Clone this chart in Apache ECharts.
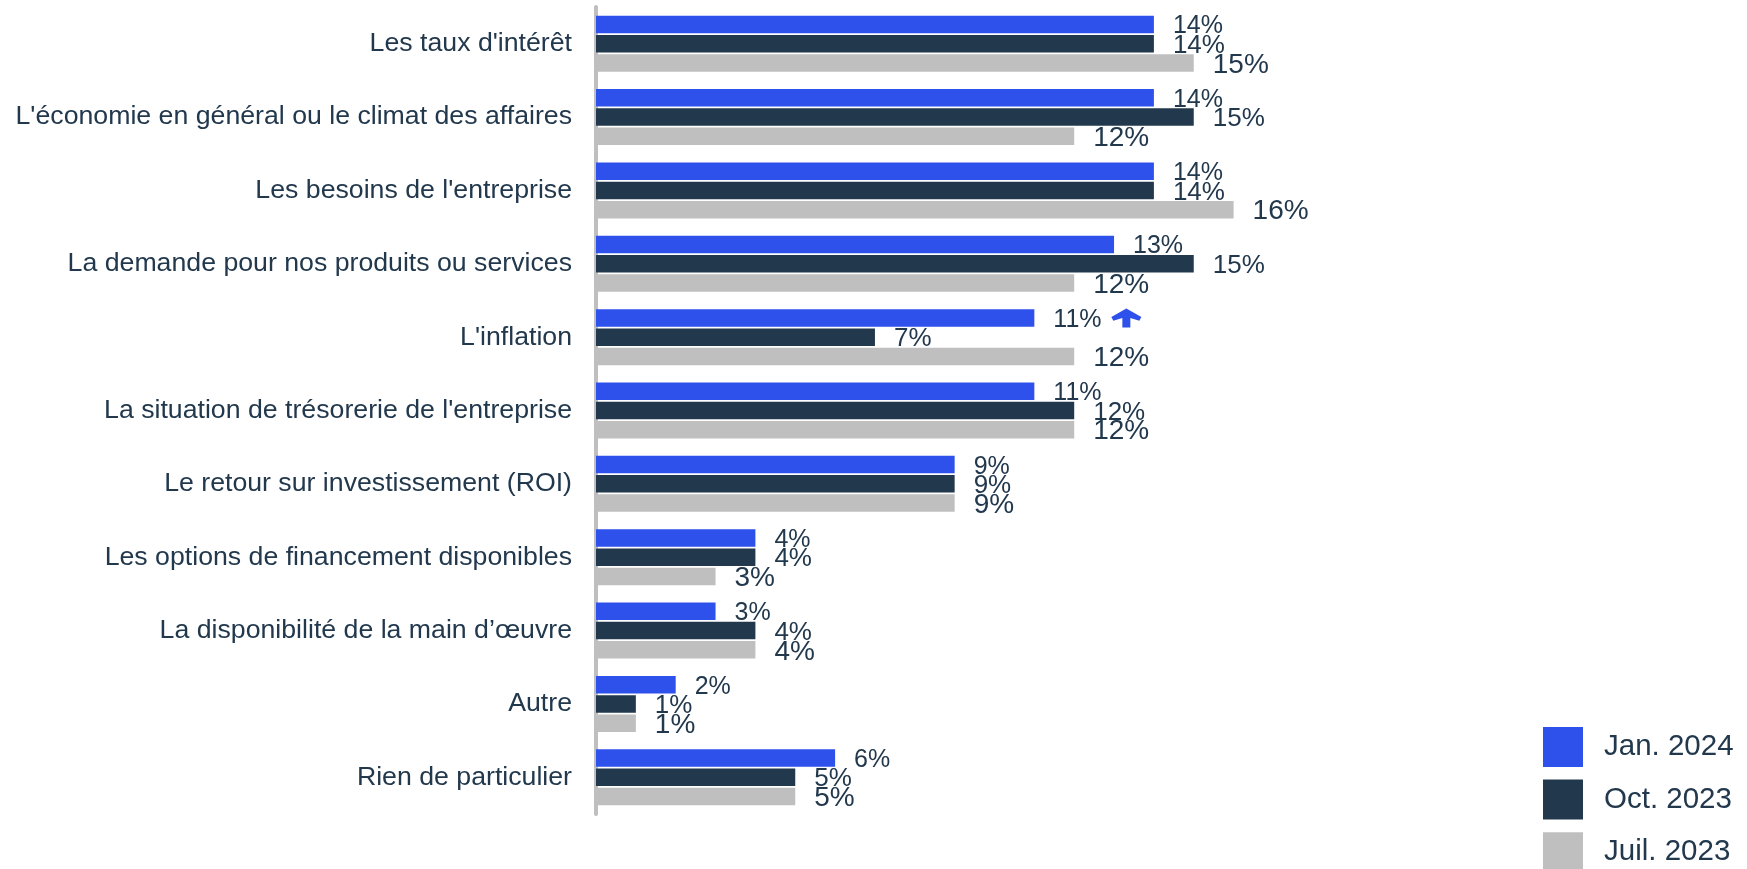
<!DOCTYPE html>
<html>
<head>
<meta charset="utf-8">
<style>
  html, body { margin: 0; padding: 0; background: #fff; }
  #chart { width: 1747px; height: 869px; }
</style>
<script src="https://cdn.jsdelivr.net/npm/echarts@6/dist/echarts.min.js"></script>
</head>
<body>
<div id="chart"></div>
<script>
const categories = [
  "Les taux d'intérêt",
  "L'économie en général ou le climat des affaires",
  "Les besoins de l'entreprise",
  'La demande pour nos produits ou services',
  "L'inflation",
  "La situation de trésorerie de l'entreprise",
  'Le retour sur investissement (ROI)',
  'Les options de financement disponibles',
  'La disponibilité de la main d’œuvre',
  'Autre',
  'Rien de particulier'
]
const seriesNames = ['Jan. 2024', 'Oct. 2023', 'Juil. 2023']
const jan2024 = [14, 14, 14, 13, 11, 11, 9, 4, 3, 2, 6]
const oct2023 = [14, 15, 14, 15, 7, 12, 9, 4, 4, 1, 5]
const juil2023 = [15, 12, 16, 12, 12, 12, 9, 3, 4, 1, 5]

const textColor = '#22384d'
const font = 'Liberation Sans, Arial, sans-serif'

const chart = echarts.init(document.getElementById('chart'))

function barSeries(name, data, color, labelSize) {
  return {
    name: name,
    type: 'bar',
    data: data,
    barWidth: 17.5,
    barGap: '10%',
    itemStyle: { color: color },
    label: {
      show: true,
      position: 'right',
      distance: 17,
      offset: [2, 2],
      formatter: '{c}%',
      color: textColor,
      fontFamily: font,
      fontSize: labelSize
    }
  }
}

const series = [
  barSeries(seriesNames[0], jan2024, '#2e50eb', 25),
  barSeries(seriesNames[1], oct2023, '#22384d', 26),
  barSeries(seriesNames[2], juil2023, '#bfbfbf', 28)
]

// flèche vers le haut à côté de L'inflation
series[0].markPoint = {
  silent: true,
  label: { show: false },
  data: [
    {
      coord: [jan2024[4], categories[4]],
      symbol: 'path://M15,0 L30,9 L28,13 L19,10 L19,20 L11,20 L11,10 L2,13 L0,9 Z',
      symbolSize: [30, 19],
      symbolOffset: [92, 0],
      itemStyle: { color: '#2e50eb' }
    }
  ]
}

const option = {
  animation: false,
  grid: {
    left: 596,
    right: 354,
    top: 7,
    bottom: 55,
    containLabel: false
  },
  legend: {
    orient: 'vertical',
    left: 1538,
    top: 722,
    height: 200,
    icon: 'rect',
    itemWidth: 40,
    itemHeight: 40,
    itemGap: 12.6,
    textStyle: {
      color: textColor,
      fontFamily: font,
      fontSize: 29.5,
      padding: [0, 0, 0, 16]
    },
    data: seriesNames
  },
  xAxis: {
    type: 'value',
    min: 0,
    max: 20,
    show: false
  },
  yAxis: {
    type: 'category',
    inverse: true,
    data: categories,
    axisTick: { show: false },
    axisLine: { show: true, lineStyle: { color: '#bfbfbf', width: 4 } },
    axisLabel: {
      margin: 24,
      padding: [4, 0, 0, 0],
      color: textColor,
      fontFamily: font,
      fontSize: 26.7
    }
  },
  series: series
}

chart.setOption(option)
</script>
</body>
</html>
